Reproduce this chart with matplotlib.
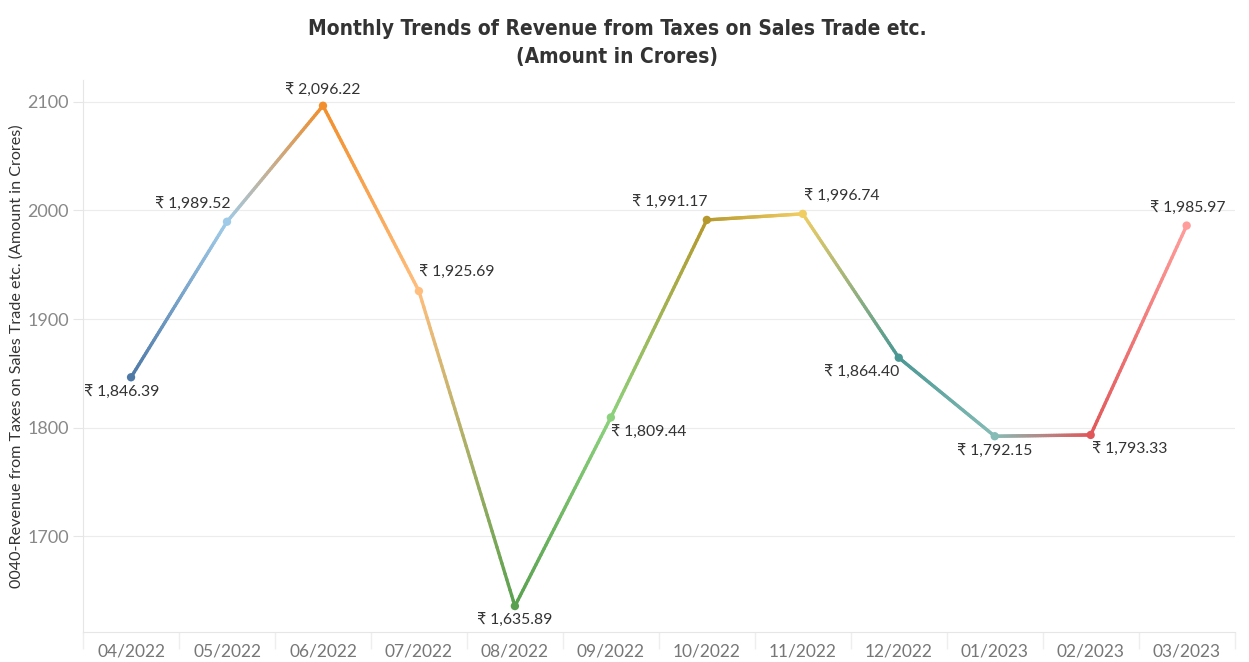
import numpy as np
import matplotlib.pyplot as plt
from matplotlib.collections import LineCollection
from matplotlib.colors import to_rgb

# data
months = ['04/2022', '05/2022', '06/2022', '07/2022', '08/2022', '09/2022',
          '10/2022', '11/2022', '12/2022', '01/2023', '02/2023', '03/2023']
revenue = [1846.39, 1989.52, 2096.22, 1925.69, 1635.89, 1809.44,
           1991.17, 1996.74, 1864.40, 1792.15, 1793.33, 1985.97]
colors = ['#4e79a7', '#a0cbe8', '#f28e2b', '#ffbe7d', '#59a14f', '#8cd17d',
          '#b6992d', '#f1ce63', '#499894', '#86bcb6', '#e15759', '#ff9d9a']
# label offsets in points (dx, dy)
offsets = [(-7, -11), (-25, 12), (0, 11), (27, 13), (0, -11), (27, -11),
           (-27, 12), (28, 12), (-27, -11), (0, -11), (28, -11), (1, 12)]

plt.rcParams['font.family'] = ['Lato', 'DejaVu Sans']

fig = plt.figure(figsize=(12.49, 6.62), dpi=100)
ax = fig.add_axes([0.0665, 0.0453, 0.922, 0.834])

x = np.arange(len(months))

# gradient line between consecutive points
for i in range(len(x) - 1):
    n = 60
    t = np.linspace(0, 1, n)
    xs = x[i] + (x[i + 1] - x[i]) * t
    ys = revenue[i] + (revenue[i + 1] - revenue[i]) * t
    pts = np.column_stack([xs, ys]).reshape(-1, 1, 2)
    segs = np.concatenate([pts[:-1], pts[1:]], axis=1)
    c1 = np.array(to_rgb(colors[i]))
    c2 = np.array(to_rgb(colors[i + 1]))
    tc = (t[:-1] + t[1:]) / 2
    cols = c1[None, :] * (1 - tc[:, None]) + c2[None, :] * tc[:, None]
    lc = LineCollection(segs, colors=cols, linewidths=2.4, capstyle='round', zorder=2)
    ax.add_collection(lc)

ax.scatter(x, revenue, c=colors, s=36, zorder=3, edgecolors='none')

for i, v in enumerate(revenue):
    ax.annotate('₹ {:,.2f}'.format(v), (x[i], v), xytext=offsets[i],
                textcoords='offset points', ha='center', va='center',
                fontsize=11.3, color='#333333')

ax.set_xlim(-0.5, len(months) - 0.5)
ax.set_ylim(1612, 2120)
ax.set_xticks(x)
ax.set_xticklabels(months, fontsize=12.5, color='#777777')
ax.set_xticks(np.arange(-0.5, len(months), 1), minor=True)
ax.tick_params(axis='x', which='major', length=0, pad=8)
ax.tick_params(axis='x', which='minor', length=12, color='#eeeeee', width=1)
ax.set_yticks([1700, 1800, 1900, 2000, 2100])
ax.tick_params(axis='y', length=7, color='#e6e6e6', labelsize=13, labelcolor='#888888', pad=3)

ax.grid(axis='y', color='#ececec', linewidth=0.8)
ax.set_axisbelow(True)
for s in ['top', 'right']:
    ax.spines[s].set_visible(False)
ax.spines['left'].set_color('#e6e6e6')
ax.spines['bottom'].set_color('#e6e6e6')

ax.set_ylabel('0040-Revenue from Taxes on Sales Trade etc. (Amount in Crores)',
              fontsize=11.6, color='#333333', labelpad=3)

fig.text(0.494, 0.935, 'Monthly Trends of Revenue from Taxes on Sales Trade etc.\n(Amount in Crores)',
         ha='center', va='center', fontsize=15, fontweight='bold', color='#333333',
         family=['DejaVu Sans'], fontstretch='condensed', linespacing=1.45)

fig.savefig('out.png', dpi=100)
